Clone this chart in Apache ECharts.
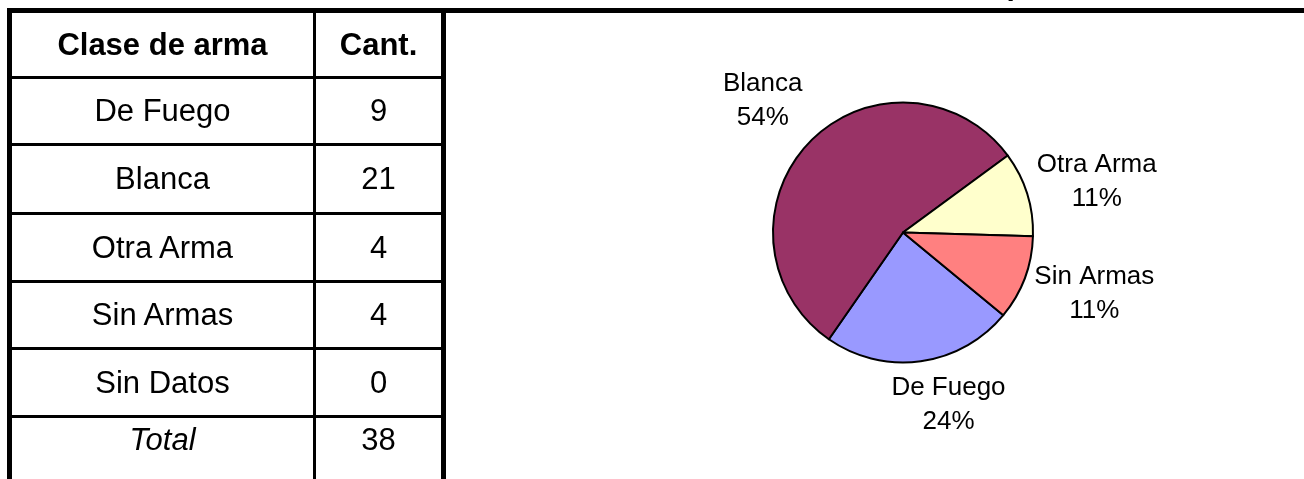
<!DOCTYPE html>
<html>
<head>
<meta charset="utf-8">
<script src="https://cdn.jsdelivr.net/npm/echarts@6/dist/echarts.min.js"></script>
<style>
html,body{margin:0;padding:0;background:#fff;overflow:hidden;width:1304px;height:479px;}
#chart{position:absolute;left:0;top:0;width:1304px;height:479px;}
#table{position:absolute;left:0;top:0;width:1304px;height:479px;pointer-events:none;font-family:'Liberation Sans',Arial,sans-serif;color:#000;}
.ln{position:absolute;background:#000;}
.cell{position:absolute;text-align:center;white-space:nowrap;font-size:31px;}
.hdr{font-weight:bold;}
.tot{font-style:italic;}
</style>
</head>
<body>
<div id="chart"></div>
<div id="table"></div>
<script>
// ---- data ----
const headers = ['Clase de arma', 'Cant.'];
const categories = ['De Fuego', 'Blanca', 'Otra Arma', 'Sin Armas', 'Sin Datos'];
const counts = [9, 21, 4, 4, 0];
const totalLabel = 'Total';
const totalCount = 38;
const pieCategories = ['De Fuego', 'Blanca', 'Otra Arma', 'Sin Armas'];
const pieValues = [9, 21, 4, 4];
const piePercentLabels = ['24%', '54%', '11%', '11%'];
const titleText = 'Arma empleada';

// ---- layout / style ----
const pieColors = ['#9999FF', '#993366', '#FFFFCC', '#FF8080'];
const PIE_CX = 903, PIE_CY = 232.5, PIE_R = 130, START_ANGLE = -39.5;
const LABEL_GAP = 8;
const labelNudge = [[22, 2], [-8, -3], [0, 10], [1, -10]];
const FONT = "'Liberation Sans', Arial, sans-serif";

// table geometry
const rowLineTops = [76, 143, 212, 280, 347, 415];
const rowBands = [[13, 76], [79, 143], [146, 212], [215, 280], [283, 347], [350, 415], [418, 462]];
const colBands = [[12, 313], [316, 441]];

function addLine(l, t, w, h) {
  const d = document.createElement('div');
  d.className = 'ln';
  d.style.left = l + 'px'; d.style.top = t + 'px';
  d.style.width = w + 'px'; d.style.height = h + 'px';
  document.getElementById('table').appendChild(d);
}
function addCell(text, col, row, cls) {
  const d = document.createElement('div');
  d.className = 'cell' + (cls ? ' ' + cls : '');
  const [x0, x1] = colBands[col];
  const [y0, y1] = rowBands[row];
  d.style.left = x0 + 'px'; d.style.width = (x1 - x0) + 'px';
  d.style.top = y0 + 'px'; d.style.height = (y1 - y0) + 'px';
  d.style.lineHeight = (y1 - y0) + 'px';
  d.textContent = text;
  document.getElementById('table').appendChild(d);
}
// frame
addLine(7, 8, 1297, 5);      // top line across
addLine(7, 8, 5, 480);       // left border
addLine(441, 8, 5, 480);     // right border of table
addLine(313, 13, 3, 480);    // column divider
rowLineTops.forEach(t => addLine(12, t, 429, 3));
// cells
addCell(headers[0], 0, 0, 'hdr');
addCell(headers[1], 1, 0, 'hdr');
categories.forEach((c, i) => {
  addCell(c, 0, i + 1);
  addCell(String(counts[i]), 1, i + 1);
});
addCell(totalLabel, 0, categories.length + 1, 'tot');
addCell(String(totalCount), 1, categories.length + 1);

// ---- pie ----
const chart = echarts.init(document.getElementById('chart'), null, {renderer: 'canvas'});
const pieTotal = pieValues.reduce((a, b) => a + b, 0);
chart.setOption({
  animation: false,
  backgroundColor: 'transparent',
  title: {
    text: titleText,
    left: 873, top: -33,
    textStyle: {fontSize: 30, fontWeight: 'bold', fontFamily: FONT, color: '#000'}
  },
  series: [{
    type: 'pie',
    center: [PIE_CX, PIE_CY],
    radius: PIE_R,
    startAngle: START_ANGLE,
    clockwise: true,
    avoidLabelOverlap: false,
    silent: true,
    emphasis: {disabled: true},
    data: pieCategories.map((n, i) => ({name: n, value: pieValues[i], itemStyle: {color: pieColors[i]}})),
    itemStyle: {borderColor: '#000', borderWidth: 2},
    label: {
      show: true,
      position: 'outside',
      formatter: p => p.name + '\n' + piePercentLabels[p.dataIndex],
      fontSize: 26,
      lineHeight: 34,
      color: '#000',
      fontFamily: FONT
    },
    labelLine: {show: false},
    labelLayout: function (p) {
      const i = p.dataIndex;
      let acc = 0;
      for (let k = 0; k < i; k++) acc += pieValues[k];
      const midDeg = START_ANGLE - (acc + pieValues[i] / 2) / pieTotal * 360;
      const rad = midDeg * Math.PI / 180;
      const ux = Math.cos(rad), uy = -Math.sin(rad);
      const a = p.labelRect.width / 2, b = p.labelRect.height / 2 - 8;
      const D = PIE_R + LABEL_GAP + a * Math.abs(ux) + b * Math.abs(uy);
      return {
        x: PIE_CX + ux * D + labelNudge[i][0],
        y: PIE_CY + uy * D + labelNudge[i][1],
        align: 'center',
        verticalAlign: 'middle'
      };
    }
  }]
});
</script>
</body>
</html>
